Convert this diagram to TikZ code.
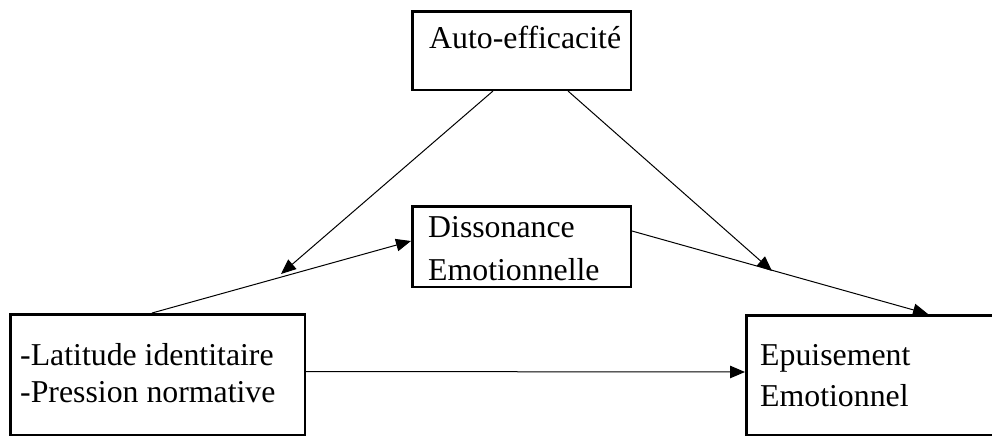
\documentclass[tikz,border=0pt]{standalone}
\usepackage{fontspec}
\setmainfont{Liberation Serif}[Ligatures={NoCommon}]
\usetikzlibrary{arrows.meta}
\begin{document}
\begin{tikzpicture}[x=1pt,y=-1pt,
  box/.style={draw,line width=2.5pt,rectangle,inner sep=0pt,outer sep=1.25pt,anchor=north west},
  label/.style={anchor=base west,inner sep=0pt,font=\fontsize{31.8}{36}\selectfont},
  link/.style={line width=1pt,-{Triangle[length=15pt,width=12.5pt]}}]
\useasboundingbox (0,0) rectangle (992,437);

% boxes
\node[box,minimum width=218.5pt,minimum height=78.5pt] (auto) at (411,10) {};
\node[box,minimum width=218.5pt,minimum height=80.5pt] (diss) at (411,205) {};
\node[box,minimum width=294.5pt,minimum height=120.5pt] (lat) at (9,313) {};
\node[box,minimum width=300pt,minimum height=119.5pt] (epu) at (745,314) {};

% labels
\node[label] (tauto) at (429,48) {Auto-efficacité};
\node[label] (tdiss1) at (428,237) {Dissonance};
\node[label] (tdiss2) at (428,280) {Emotionnelle};
\node[label] (tlat1) at (20,365) {-Latitude identitaire};
\node[label] (tlat2) at (20,402) {-Pression normative};
\node[label] (tepu1) at (760,365) {Epuisement};
\node[label] (tepu2) at (760,406) {Emotionnel};

% points where the moderating arrows meet the paths
\coordinate (m1) at (281,274);
\coordinate (m2) at (772,271);

% connectors
\draw[link] ([xshift=143pt]lat.north west) -- ([yshift=5.5pt]diss.west);
\draw[link] ([yshift=15.5pt]diss.east) -- ([xshift=183pt]epu.north west);
\draw[link] ([yshift=3pt]lat.east) -- ([yshift=3pt]epu.west);
\draw[link] ([xshift=82pt]auto.south west) -- (m1);
\draw[link] ([xshift=157pt]auto.south west) -- (m2);
\end{tikzpicture}
\end{document}
